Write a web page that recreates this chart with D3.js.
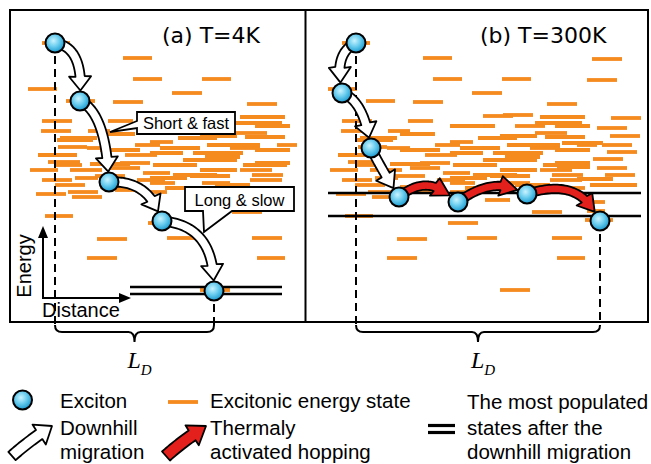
<!DOCTYPE html>
<html>
<head>
<meta charset="utf-8">
<script src="https://cdn.jsdelivr.net/npm/d3@7"></script>
<style>
  html, body { margin: 0; padding: 0; background: #fff; }
  svg { display: block; }
</style>
</head>
<body>
<div id="chart"></div>
<script>
// energy states: [distance start, distance end, energy], same layout in both panels
var states = [
  [32,60,279], [113,142,264], [123,152,243], [192,221,243], [18,47,233],
  [162,192,229], [56,85,221], [103,133,220], [237,267,218], [193,223,207],
  [32,62,201], [98,123,201], [225,272,199], [31,61,191], [78,100,191],
  [225,257,189], [190,227,186], [50,87,184], [168,207,184], [47,83,182],
  [140,163,180], [125,150,177], [197,250,177], [267,287,177], [48,77,175],
  [77,100,174], [150,190,174], [220,250,174], [140,173,169], [183,233,169],
  [28,67,167], [115,147,167], [173,227,162], [38,70,160], [80,120,158],
  [45,72,157], [143,187,157], [233,277,157], [20,48,152], [60,92,152],
  [190,227,152], [230,262,152], [133,160,149], [163,207,147], [242,273,147],
  [65,88,144], [140,177,144], [32,62,142], [127,155,142], [240,272,142],
  [140,165,139], [192,220,139], [90,117,135], [58,88,130], [140,157,130],
  [26,56,128], [62,92,125], [222,252,110], [35,63,106], [138,168,99],
  [87,117,83], [157,187,84], [242,272,84], [77,107,64], [247,275,64],
  [190,220,32],
  [230,275,205], [140,185,196], [245,280,196], [90,125,188], [235,275,185],
  [90,130,172], [245,280,172], [195,230,165], [110,140,159], [245,280,159],
  [100,130,154], [85,115,146], [180,220,146], [205,240,137], [45,75,137],
  [155,190,134], [245,275,134], [105,130,132], [175,200,122]
];
// extra states on the wider right panel
var statesExtraB = [
  [282,312,263], [277,307,242], [301,331,204], [287,317,194], [292,322,177],
  [297,327,170], [283,313,163], [287,317,154], [267,303,143], [280,327,137],
  [277,295,120], [277,295,111], [275,303,102], [205,235,196], [252,293,179],
  [247,280,155], [173,203,206], [300,330,186], [295,325,147]
];
// excitons: [distance, energy]
var excitonsA = [[45,279], [70,221], [99,140], [152,101], [204,31]];
var excitonsB = [[46,279], [32,229], [61,174], [89,125], [148,120], [217,128], [290,101]];
// hops: [from, to, control distance, control energy, kind]
var hopsA = [[0,1,72,275,"down"], [1,2,94,210,"down"], [2,3,135,142,"down"], [3,4,202,97,"down"]];
var hopsB = [[0,1,26,270,"down"], [1,2,52,222,"down"], [2,3,68,159,"down"],
             [3,4,115,147,"hop"], [4,5,180,144,"hop"], [5,6,265,144,"hop"]];
// most populated states: energies and distance span
var plateauA = {energies: [35, 28], span: [120, 272]};
var plateauB = {energies: [129, 106], span: [18, 331]};
var titles = ["(a) T=4K", "(b) T=300K"];

var W = 651, H = 464;
var orange = "#f58a1f", red = "#e3201b";
var sans = "'Liberation Sans', Arial, sans-serif";

var svg = d3.select("#chart").append("svg").attr("width", W).attr("height", H);

var defs = svg.append("defs");
var grad = defs.append("radialGradient").attr("id", "exc")
  .attr("cx", "42%").attr("cy", "38%").attr("r", "62%");
grad.append("stop").attr("offset", "0%").attr("stop-color", "#c9f3ff");
grad.append("stop").attr("offset", "50%").attr("stop-color", "#6bcdee");
grad.append("stop").attr("offset", "100%").attr("stop-color", "#1b9bd0");

var y = d3.scaleLinear().domain([0, 312]).range([322, 10]);
var xA = d3.scaleLinear().domain([0, 300]).range([10, 310]);
var xB = d3.scaleLinear().domain([0, 300]).range([310, 610]);

var R = 9.5;

function fatArrow(p0, c, p1, bw, hw, hl) {
  var n = 40, pts = [], i, t;
  for (i = 0; i <= n; i++) {
    t = i / n;
    pts.push([(1 - t) * (1 - t) * p0[0] + 2 * (1 - t) * t * c[0] + t * t * p1[0],
              (1 - t) * (1 - t) * p0[1] + 2 * (1 - t) * t * c[1] + t * t * p1[1]]);
  }
  var rem = 0, k = n;
  while (k > 1 && rem < hl) {
    rem += Math.hypot(pts[k][0] - pts[k - 1][0], pts[k][1] - pts[k - 1][1]);
    k--;
  }
  var body = pts.slice(0, k + 1);
  var base = body[body.length - 1];
  var left = [], right = [];
  body.forEach(function(p, j) {
    var a = body[Math.max(j - 1, 0)], b = body[Math.min(j + 1, body.length - 1)];
    var dx = b[0] - a[0], dy = b[1] - a[1], L = Math.hypot(dx, dy) || 1;
    var nx = -dy / L, ny = dx / L;
    left.push([p[0] + nx * bw, p[1] + ny * bw]);
    right.push([p[0] - nx * bw, p[1] - ny * bw]);
  });
  var dx = p1[0] - base[0], dy = p1[1] - base[1], L = Math.hypot(dx, dy) || 1;
  var nx = -dy / L, ny = dx / L;
  var poly = left.concat([[base[0] + nx * hw, base[1] + ny * hw], p1,
                          [base[0] - nx * hw, base[1] - ny * hw]], right.reverse());
  return d3.line()(poly) + "Z";
}

function drawPanel(x, list, excitons, hops, plateau) {
  var g = svg.append("g");
  g.selectAll(".state").data(list).enter().append("line")
    .attr("class", "state")
    .attr("x1", function(d) { return x(d[0]); })
    .attr("x2", function(d) { return x(d[1]); })
    .attr("y1", function(d) { return y(d[2]); })
    .attr("y2", function(d) { return y(d[2]); })
    .attr("stroke", orange).attr("stroke-width", 3.8);

  // dashed drop lines at start and end of migration
  [excitons[0], excitons[excitons.length - 1]].forEach(function(e) {
    g.append("line")
      .attr("x1", x(e[0])).attr("x2", x(e[0]))
      .attr("y1", y(e[1])).attr("y2", 326)
      .attr("stroke", "#000").attr("stroke-width", 2)
      .attr("stroke-dasharray", "8,5");
  });

  plateau.energies.forEach(function(en) {
    g.append("line")
      .attr("x1", x(plateau.span[0])).attr("x2", x(plateau.span[1]))
      .attr("y1", y(en)).attr("y2", y(en))
      .attr("stroke", "#000").attr("stroke-width", 2.5);
  });

  hops.forEach(function(h) {
    var a = excitons[h[0]], b = excitons[h[1]];
    var p0 = [x(a[0]), y(a[1])], c = [x(h[2]), y(h[3])], cb = [x(b[0]), y(b[1])];
    var dx = cb[0] - c[0], dy = cb[1] - c[1], L = Math.hypot(dx, dy);
    var tip = [cb[0] - dx / L * (R + 1), cb[1] - dy / L * (R + 1)];
    var hopping = h[4] === "hop";
    g.append("path")
      .attr("d", hopping ? fatArrow(p0, c, tip, 4.2, 10, 16) : fatArrow(p0, c, tip, 4.6, 11, 14))
      .attr("fill", hopping ? red : "#fff")
      .attr("stroke", "#000").attr("stroke-width", 1.8)
      .attr("stroke-linejoin", "round");
  });

  g.selectAll(".exciton").data(excitons).enter().append("circle")
    .attr("class", "exciton")
    .attr("cx", function(d) { return x(d[0]); })
    .attr("cy", function(d) { return y(d[1]); })
    .attr("r", R)
    .attr("fill", "url(#exc)").attr("stroke", "#000").attr("stroke-width", 2);

  // brace under the diffusion length
  var xl = x(excitons[0][0]), xr = x(excitons[excitons.length - 1][0]), xm = (xl + xr) / 2;
  g.append("path")
    .attr("d", "M" + xl + ",325 Q" + xl + ",332 " + (xl + 7) + ",332 H" + (xm - 6) +
      " Q" + xm + ",332 " + xm + ",342 Q" + xm + ",332 " + (xm + 6) + ",332 H" + (xr - 7) +
      " Q" + xr + ",332 " + xr + ",325")
    .attr("fill", "none").attr("stroke", "#000").attr("stroke-width", 2);
  var ld = g.append("text").attr("x", xm - 7).attr("y", 368)
    .attr("font-family", "'Liberation Serif', 'Times New Roman', serif")
    .attr("font-style", "italic").attr("font-size", 24);
  ld.append("tspan").text("L");
  ld.append("tspan").attr("dy", 7).attr("font-size", 15).text("D");
  return g;
}

drawPanel(xA, states, excitonsA, hopsA, plateauA);
drawPanel(xB, states.concat(statesExtraB), excitonsB, hopsB, plateauB);

// frames
svg.append("rect").attr("x", 10).attr("y", 10).attr("width", 638).attr("height", 312)
  .attr("fill", "none").attr("stroke", "#000").attr("stroke-width", 2);
svg.append("line").attr("x1", 305.5).attr("x2", 305.5).attr("y1", 10).attr("y2", 322)
  .attr("stroke", "#000").attr("stroke-width", 2);

svg.selectAll(".title").data(titles).enter().append("text")
  .attr("class", "title")
  .attr("x", function(d, i) { return i === 0 ? 162 : 480; })
  .attr("y", 43)
  .attr("font-family", "'DejaVu Sans', Verdana, sans-serif")
  .attr("font-size", 22)
  .text(function(d) { return d; });

// callouts
svg.append("path")
  .attr("d", "M137,112 H235 V134 H137 V128 L110,132 L137,121 Z")
  .attr("fill", "#fff").attr("stroke", "#000").attr("stroke-width", 1.8);
svg.append("text").attr("x", 186).attr("y", 128.5).attr("text-anchor", "middle")
  .attr("font-family", sans).attr("font-size", 16.5).text("Short & fast");
svg.append("path")
  .attr("d", "M185,187 H294 V211 H232 L204,232 L203,211 H185 Z")
  .attr("fill", "#fff").attr("stroke", "#000").attr("stroke-width", 1.8);
svg.append("text").attr("x", 239.5).attr("y", 205.5).attr("text-anchor", "middle")
  .attr("font-family", sans).attr("font-size", 16.5).text("Long & slow");

// energy / distance axes
var ax = svg.append("g");
ax.append("line").attr("x1", 43).attr("x2", 43).attr("y1", 298).attr("y2", 236)
  .attr("stroke", "#000").attr("stroke-width", 2);
ax.append("path").attr("d", "M43,226 L38,238 L48,238 Z").attr("fill", "#000");
ax.append("line").attr("x1", 42).attr("x2", 121).attr("y1", 298).attr("y2", 298)
  .attr("stroke", "#000").attr("stroke-width", 2);
ax.append("path").attr("d", "M131,298 L119,293 L119,303 Z").attr("fill", "#000");
ax.append("text").attr("transform", "translate(31,266) rotate(-90)")
  .attr("text-anchor", "middle").attr("font-family", sans).attr("font-size", 20).text("Energy");
ax.append("text").attr("x", 42).attr("y", 317)
  .attr("font-family", sans).attr("font-size", 20).text("Distance");

// legend
var lg = svg.append("g").attr("font-family", sans).attr("font-size", 20.5);
lg.append("circle").attr("cx", 22.5).attr("cy", 400).attr("r", R)
  .attr("fill", "url(#exc)").attr("stroke", "#000").attr("stroke-width", 2);
lg.append("text").attr("x", 60).attr("y", 407.5).text("Exciton");
lg.append("line").attr("x1", 168).attr("x2", 198).attr("y1", 402).attr("y2", 402)
  .attr("stroke", orange).attr("stroke-width", 3.8);
lg.append("text").attr("x", 210).attr("y", 407.5).text("Excitonic energy state");
lg.append("path").attr("d", fatArrow([12, 456], [30, 440], [52, 426], 5.5, 12, 15))
  .attr("fill", "#fff").attr("stroke", "#000").attr("stroke-width", 1.8).attr("stroke-linejoin", "round");
lg.append("text").attr("x", 60).attr("y", 435).text("Downhill");
lg.append("text").attr("x", 60).attr("y", 458.5).text("migration");
lg.append("path").attr("d", fatArrow([166, 456], [184, 440], [206, 426], 6, 12, 16))
  .attr("fill", red).attr("stroke", "#000").attr("stroke-width", 1.8).attr("stroke-linejoin", "round");
lg.append("text").attr("x", 210).attr("y", 435).text("Thermaly");
lg.append("text").attr("x", 210).attr("y", 458.5).text("activated hopping");
[425.5, 432.5].forEach(function(v) {
  lg.append("line").attr("x1", 428).attr("x2", 455).attr("y1", v).attr("y2", v)
    .attr("stroke", "#000").attr("stroke-width", 3.2);
});
lg.append("text").attr("x", 467).attr("y", 409).text("The most populated");
lg.append("text").attr("x", 467).attr("y", 435).text("states after the");
lg.append("text").attr("x", 467).attr("y", 458.5).text("downhill migration");
</script>
</body>
</html>
